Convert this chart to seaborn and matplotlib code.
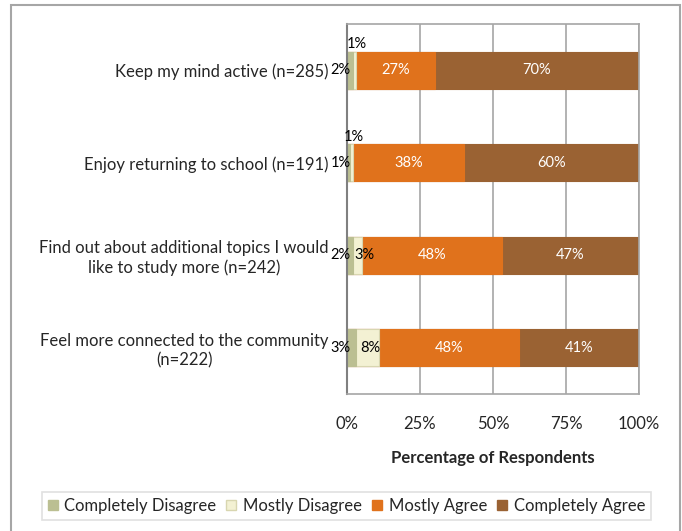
import numpy as np
import pandas as pd
import matplotlib.pyplot as plt
import seaborn as sns
from matplotlib.patches import Patch, Rectangle

# Survey data (percent of respondents)
categories = [
    "Keep my mind active (n=285)",
    "Enjoy returning to school (n=191)",
    "Find out about additional topics I would\nlike to study more (n=242)",
    "Feel more connected to the community\n(n=222)",
]
completely_disagree = [2, 1, 2, 3]
mostly_disagree = [1, 1, 3, 8]
mostly_agree = [27, 38, 48, 48]
completely_agree = [70, 60, 47, 41]

series_names = ["Completely Disagree", "Mostly Disagree", "Mostly Agree", "Completely Agree"]
colors = ["#BBBF92", "#F3F1D3", "#E0721C", "#9A6233"]
x_ticks = [0, 25, 50, 75, 100]

sns.set_style("white")
plt.rcParams['font.family'] = ['Lato', 'DejaVu Sans']

df = pd.DataFrame({
    'category': categories,
    'cd': completely_disagree,
    'md': mostly_disagree,
    'ma': mostly_agree,
    'ca': completely_agree,
})
parts = ['cd', 'md', 'ma', 'ca']
cum = df[parts].cumsum(axis=1)

fig = plt.figure(figsize=(6.82, 5.31), dpi=100)
ax = fig.add_axes([347 / 682, 1 - 394 / 531, 292 / 682, 370 / 531])

# stacked bars: draw cumulative totals from the widest down
for key, col in reversed(list(zip(parts, colors))):
    edge = '#D8D6B0' if key == 'md' else col
    sns.barplot(x=cum[key], y=df['category'], orient='h', color=col, saturation=1,
                width=0.4, edgecolor=edge, linewidth=0.8, ax=ax)

# data labels
lab_fs = 10.5
for i in range(len(df)):
    start = 0
    for j, key in enumerate(parts):
        v = df.loc[i, key]
        mid = start + v / 2
        if key == 'cd':
            ax.text(1.2, i, f"{v}%", ha='right', va='center', fontsize=lab_fs, color='black')
        elif key == 'md':
            if v <= 1:
                ax.text(mid + 1, i - 0.28, f"{v}%", ha='center', va='center', fontsize=lab_fs, color='black')
            else:
                ax.text(max(mid + 0.9, 6), i, f"{v}%", ha='center', va='center', fontsize=lab_fs, color='black')
        else:
            ax.text(mid, i, f"{v}%", ha='center', va='center', fontsize=lab_fs, color='white')
        start += v

ax.set_xlim(0, 100)
ax.set_ylim(3.5, -0.5)
ax.set_xticks(x_ticks)
ax.set_xticklabels([f"{t}%" for t in x_ticks], fontsize=12)
ax.tick_params(axis='x', length=0, pad=16)
ax.set_yticks(range(len(categories)))
ax.set_yticklabels(categories, fontsize=12, multialignment='center')
ax.set_yticks(np.arange(-0.5, len(categories)), minor=True)
ax.tick_params(axis='y', which='major', length=0, pad=13)
ax.tick_params(axis='y', which='minor', length=5, width=1, color='#808080', direction='out')
ax.set_xlabel("Percentage of Respondents", fontsize=12, fontweight='bold', labelpad=13)
ax.set_ylabel("")

ax.set_axisbelow(True)
ax.grid(axis='x', color='#A6A6A6', linewidth=1.2)
for side in ['top', 'right', 'bottom']:
    ax.spines[side].set_color('#A6A6A6')
    ax.spines[side].set_linewidth(1.2)
ax.spines['left'].set_color('#808080')
ax.spines['left'].set_linewidth(1.5)

handles = [Patch(facecolor=c, edgecolor=('#D8D6B0' if c == '#F3F1D3' else c)) for c in colors]
leg = fig.legend(handles, series_names, loc='center', bbox_to_anchor=(0.508, 0.047), ncol=4,
                 fontsize=12, fancybox=False, frameon=True, edgecolor='#D9D9D9',
                 handlelength=0.6, handleheight=0.6, handletextpad=0.4, columnspacing=0.6,
                 borderpad=0.35, borderaxespad=0)
leg.get_frame().set_linewidth(1.2)

# outer chart border
fig.patches.append(Rectangle((11 / 682, -0.05), 669 / 682, 1.04, transform=fig.transFigure,
                             fill=False, edgecolor='#A6A6A6', linewidth=1.5))

fig.savefig('out.png', dpi=100)
